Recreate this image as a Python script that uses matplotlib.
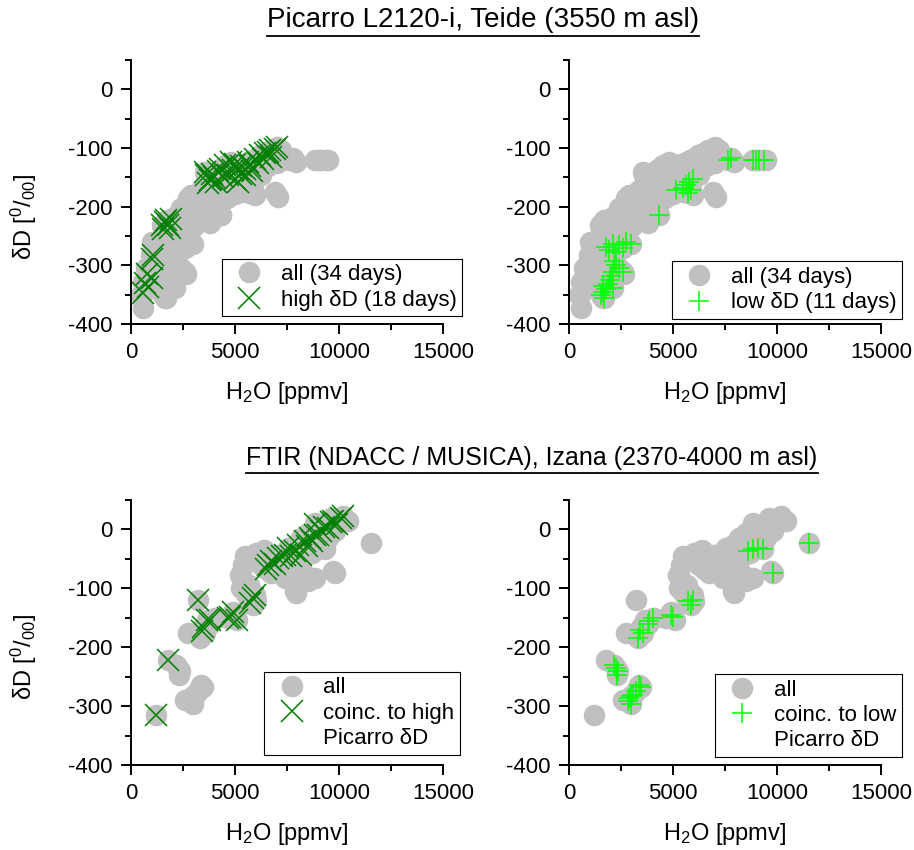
import matplotlib
matplotlib.use('Agg')
import matplotlib.pyplot as plt
from matplotlib import font_manager
from matplotlib.lines import Line2D
from matplotlib.ticker import MultipleLocator

# --- Picarro L2120-i, Teide: H2O [ppmv] e dD [permil] ---
picarro_high_h2o = [590, 830, 990, 750, 680, 1070, 1000,
                    1470, 1620, 1780, 1940, 1700, 1550, 1860,
                    3540, 3620, 3700, 3780, 3860, 3900, 4000, 4100, 4200,
                    4300, 4400, 4500, 4660, 4820, 4900, 4980, 5000,
                    5140, 5160, 5300, 5300, 5460, 5500, 5620, 5700, 5800,
                    5950, 6100, 6200, 6350, 6450, 6590, 6700, 6750,
                    6910, 7000]
picarro_high_dD = [-348, -337, -322, -314, -330, -283, -290,
                   -232, -226, -231, -221, -223, -238, -236,
                   -141, -146, -160, -155, -152, -145, -150, -158, -140,
                   -135, -150, -129, -146, -124, -138, -152, -128,
                   -135, -158, -130, -145, -146, -135, -124, -130, -140,
                   -118, -125, -112, -118, -108, -107, -103, -115,
                   -101, -98]

picarro_low_h2o = [1540, 1620, 1700, 1780, 1860, 2100, 1650, 1950,
                   2000, 2100, 2260, 2420, 2580, 2180,
                   1780, 1940, 2100, 2260, 2420, 2740, 2980, 2600,
                   4340,
                   5140, 5460, 5620, 5790, 5870, 5950, 5700,
                   7630, 7790,
                   8830, 8990, 9150, 9390]
picarro_low_dD = [-350, -345, -356, -340, -331, -339, -335, -325,
                  -318, -311, -300, -305, -311, -292,
                  -268, -274, -263, -277, -266, -260, -263, -270,
                  -214,
                  -172, -169, -163, -158, -172, -152, -177,
                  -120, -117,
                  -121, -121, -121, -121]

# giorni rimanenti (solo grigio)
picarro_other_h2o = [500, 580, 580, 740, 820, 980, 1000, 1380, 1400, 1460,
                     1620, 1780, 1780, 1800, 1860, 2100, 2100, 2200, 2200,
                     2260, 2420, 2580, 2580, 2600, 2660, 2740, 2900, 2900,
                     3000, 3000, 3060, 3380, 3400, 3400, 3540, 3700, 3800,
                     3800, 4180, 4200, 4200, 4340, 4600, 4600, 4820, 5000,
                     5000, 5390, 5400, 5460, 5620, 5800, 5950, 6200, 6270,
                     6430, 6600, 6910, 7000, 7070, 7230, 7950, 9070, 9470]
picarro_other_dD = [-351, -373, -328, -305, -328, -282, -260, -255, -280, -277,
                    -356, -300, -345, -285, -231, -237, -311, -215, -265,
                    -214, -202, -220, -260, -245, -314, -186, -180, -263,
                    -210, -235, -231, -172, -195, -220, -180, -203, -158,
                    -228, -186, -172, -195, -214, -162, -185, -169, -155,
                    -178, -128, -148, -175, -158, -120, -180, -135, -146,
                    -110, -130, -175, -125, -183, -104, -124, -121, -121]

# --- FTIR (NDACC / MUSICA), Izana ---
ftir_high_h2o = [1220, 1780, 3220,
                 3400, 3480, 3640, 3780,
                 4660, 4760, 4900, 5080,
                 5700, 5880, 5950,
                 6510, 6590, 6750, 6900, 7070, 7250, 7390, 7550, 7700,
                 7870, 8030, 8190, 8350, 8450, 8590, 8700, 8830, 8830,
                 9000, 9150, 9300, 9470, 9600, 9730, 9900, 10110, 10210]
ftir_high_dD = [-315, -221, -119,
                -172, -165, -153, -153,
                -150, -148, -140, -153,
                -125, -116, -111,
                -68, -60, -54, -58, -48, -45, -43, -31, -45,
                -37, -26, -43, -20, -28, -14, -20, -9, 9,
                -10, -3, 5, 3, 12, 14, 10, 20, 22]

ftir_low_h2o = [2180, 2260, 2340, 2300,
                2820, 2900, 2980, 3060, 3220, 3380, 3460, 3000,
                3300, 3540, 3780, 3860, 4020, 3400,
                4900, 4980,
                5700, 5870, 5950,
                8590, 8830, 9070, 9310,
                9790, 11550]
ftir_low_dD = [-230, -236, -241, -248,
               -292, -287, -283, -281, -275, -264, -267, -296,
               -184, -176, -160, -156, -150, -170,
               -145, -148,
               -122, -128, -119,
               -37, -34, -31, -34,
               -74, -23]

ftir_other_h2o = [2740, 2600, 4090, 5220, 5300, 5300, 5460, 5550, 6030, 6270,
                  6590, 6750, 6910, 7070, 7390, 7390, 7550, 7870, 7870,
                  7950, 8030, 8190, 8350, 8510, 8510, 8830, 8830, 8910,
                  9470, 9630, 9790, 10110, 10190, 10430, 9700, 6000, 6400,
                  7200, 7700, 8200, 8700, 9100, 9300, 5400, 5650]
ftir_other_dD = [-176, -290, -150, -77, -75, -100, -45, -110, -122, -60,
                 -48, -74, -43, -43, -40, -82, -65, -26, -105,
                 -108, -88, -14, -77, -6, -88, -82, 11, 6,
                 -14, 20, -3, 20, 20, 14, -71, -40, -35,
                 -60, -55, -50, -40, -15, 0, -60, -95]

picarro_all_h2o = picarro_high_h2o + picarro_low_h2o + picarro_other_h2o
picarro_all_dD = picarro_high_dD + picarro_low_dD + picarro_other_dD
ftir_all_h2o = ftir_high_h2o + ftir_low_h2o + ftir_other_h2o
ftir_all_dD = ftir_high_dD + ftir_low_dD + ftir_other_dD

# --- stile ---
installed = {f.name for f in font_manager.fontManager.ttflist}
titolo_font = 'Liberation Sans Narrow' if 'Liberation Sans Narrow' in installed else 'Liberation Sans'

plt.rcParams['font.family'] = ['Liberation Sans', 'DejaVu Sans']
plt.rcParams['font.size'] = 16
plt.rcParams['axes.unicode_minus'] = False
plt.rcParams['mathtext.fontset'] = 'custom'
plt.rcParams['mathtext.rm'] = 'Liberation Sans'
plt.rcParams['mathtext.it'] = 'Liberation Sans:italic'
plt.rcParams['mathtext.bf'] = 'Liberation Sans:bold'

GRIGIO = '#c0c0c0'
VERDE_SCURO = '#008000'
VERDE_CHIARO = '#00ff00'

W, H = 914, 850
fig = plt.figure(figsize=(W / 100, H / 100), dpi=100)


def crea_assi(x0, y_top, y_bot, x1):
    """Assi in coordinate pixel (origine in alto a sinistra)."""
    return fig.add_axes([x0 / W, 1 - y_bot / H, (x1 - x0) / W, (y_bot - y_top) / H])


def setup_assi(ax):
    ax.set_xlim(0, 15000)
    ax.set_ylim(-400, 50)
    ax.xaxis.set_major_locator(MultipleLocator(5000))
    ax.xaxis.set_minor_locator(MultipleLocator(2500))
    ax.yaxis.set_major_locator(MultipleLocator(100))
    ax.yaxis.set_minor_locator(MultipleLocator(50))
    ax.spines['top'].set_visible(False)
    ax.spines['right'].set_visible(False)
    for s in ('left', 'bottom'):
        ax.spines[s].set_linewidth(1.4)
    ax.tick_params(which='major', direction='out', length=7.2, width=1.4,
                   labelsize=16, pad=6)
    ax.tick_params(which='minor', direction='out', length=4.3, width=1.4)
    ax.set_xlabel('H$_2$O [ppmv]', fontsize=17, labelpad=12)


def legenda(ax, handles, labels, anchor):
    leg = ax.legend(handles, labels, loc='lower right', bbox_to_anchor=anchor,
                    borderaxespad=0, fontsize=16, frameon=True, fancybox=False,
                    framealpha=1, edgecolor='black', numpoints=1,
                    handlelength=1.95, handletextpad=0.45, borderpad=0.25,
                    labelspacing=0.2)
    leg.get_frame().set_linewidth(0.8)
    return leg


def punti_grigi(ax, x, y):
    return ax.plot(x, y, linestyle='none', marker='o', markersize=15.5,
                   markeredgewidth=0, color=GRIGIO)[0]


def punti_x(ax, x, y):
    return ax.plot(x, y, linestyle='none', marker='x', markersize=16.5,
                   markeredgewidth=1.1, color=VERDE_SCURO)[0]


def punti_piu(ax, x, y):
    return ax.plot(x, y, linestyle='none', marker='+', markersize=14.5,
                   markeredgewidth=1.1, color=VERDE_CHIARO)[0]


vuoto = Line2D([], [], linestyle='none', marker=None)

# Picarro: high dD
ax1 = crea_assi(131, 60, 324, 443)
setup_assi(ax1)
g = punti_grigi(ax1, picarro_all_h2o, picarro_all_dD)
x = punti_x(ax1, picarro_high_h2o, picarro_high_dD)
legenda(ax1, [g, x], ['all (34 days)', 'high δD (18 days)'], (1.061, 0.030))

# Picarro: low dD
ax2 = crea_assi(569, 60, 324, 881)
setup_assi(ax2)
g = punti_grigi(ax2, picarro_all_h2o, picarro_all_dD)
p = punti_piu(ax2, picarro_low_h2o, picarro_low_dD)
legenda(ax2, [g, p], ['all (34 days)', 'low δD (11 days)'], (1.067, 0.019))

# FTIR: coincidenze con high dD
ax3 = crea_assi(131, 500, 765, 443)
setup_assi(ax3)
g = punti_grigi(ax3, ftir_all_h2o, ftir_all_dD)
x = punti_x(ax3, ftir_high_h2o, ftir_high_dD)
legenda(ax3, [g, x, vuoto], ['all', 'coinc. to high', 'Picarro δD'], (1.054, 0.038))

# FTIR: coincidenze con low dD
ax4 = crea_assi(569, 500, 765, 881)
setup_assi(ax4)
g = punti_grigi(ax4, ftir_all_h2o, ftir_all_dD)
p = punti_piu(ax4, ftir_low_h2o, ftir_low_dD)
legenda(ax4, [g, p, vuoto], ['all', 'coinc. to low', 'Picarro δD'], (1.067, 0.030))

# etichette asse y
ylab = 'δD [$^{0}$/$_{00}$]'
fig.text(24 / W, 1 - 217 / H, ylab, rotation=90, ha='center', va='center', fontsize=17)
fig.text(24 / W, 1 - 657 / H, ylab, rotation=90, ha='center', va='center', fontsize=17)

# titoli sottolineati
titoli = [
    (483, 20, 'Picarro L2120-i, Teide (3550 m asl)', 20),
    (532, 458, 'FTIR (NDACC / MUSICA), Izana (2370-4000 m asl)', 18),
]
testi = []
for cx, cy, s, fs in titoli:
    testi.append(fig.text(cx / W, 1 - cy / H, s, ha='center', va='center',
                          fontsize=fs, family=[titolo_font, 'DejaVu Sans']))

fig.canvas.draw()
renderer = fig.canvas.get_renderer()
for t in testi:
    bb = t.get_window_extent(renderer)
    y_line = bb.y0 - 3
    fig.add_artist(Line2D([bb.x0 / W, bb.x1 / W], [y_line / H, y_line / H],
                          color='black', linewidth=1.3, transform=fig.transFigure))

fig.savefig('out.png', dpi=100)
